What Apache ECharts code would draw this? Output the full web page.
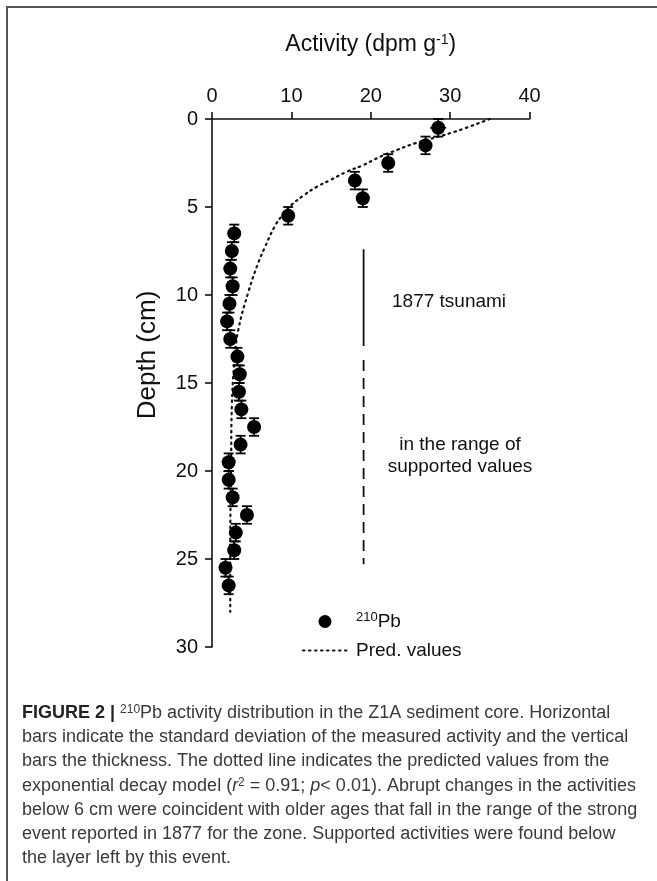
<!DOCTYPE html>
<html>
<head>
<meta charset="utf-8">
<script src="https://cdn.jsdelivr.net/npm/echarts@6/dist/echarts.min.js"></script>
<style>
html,body{margin:0;padding:0;background:#fff;}
#c{width:657px;height:881px;}
</style>
</head>
<body>
<div id="c"></div>
<script>
// ---- data ----
const depth = [0.5,1.5,2.5,3.5,4.5,5.5,6.5,7.5,8.5,9.5,10.5,11.5,12.5,13.5,14.5,15.5,16.5,17.5,18.5,19.5,20.5,21.5,22.5,23.5,24.5,25.5,26.5];
const activity = [28.5,26.9,22.2,18.0,19.0,9.6,2.8,2.5,2.3,2.6,2.2,1.9,2.3,3.2,3.5,3.4,3.7,5.3,3.6,2.1,2.1,2.6,4.4,3.0,2.8,1.7,2.1];
const activitySD = [1.0,0.6,0.5,0.5,0.5,0.6,0.5,0.5,0.5,0.5,0.5,0.5,0.5,0.5,0.5,0.5,0.5,0.5,0.5,0.5,0.5,0.5,0.5,0.5,0.5,0.5,0.5];
const thicknessHalf = [0.5,0.5,0.5,0.5,0.5,0.5,0.5,0.5,0.5,0.5,0.5,0.5,0.5,0.5,0.5,0.5,0.5,0.5,0.5,0.5,0.5,0.5,0.5,0.5,0.5,0.5,0.5];
const predDepth = [0,0.72,1.38,1.76,2.14,2.61,2.99,3.47,3.85,4.32,4.89,5.45,6.1,7.35,8.2,9.8,12,13.9,16.3,20,24,28];
const predActivity = [35,30.6,25.6,23.3,21.2,19.1,17.0,14.9,13.2,11.6,10.0,8.9,7.9,6.6,5.8,4.6,3.3,2.8,2.5,2.4,2.3,2.3];
const xTicks = [0,10,20,30,40];
const yTicks = [0,5,10,15,20,25,30];
const tsunamiLine = {activity:19.1, from:7.4, to:12.9};
const supportedLine = {activity:19.1, from:13.7, to:25.3};
const captionLines = [
  '{b|FIGURE 2 |} {s|210}Pb activity distribution in the Z1A sediment core. Horizontal',
  'bars indicate the standard deviation of the measured activity and the vertical',
  'bars the thickness. The dotted line indicates the predicted values from the',
  'exponential decay model ({i|r}{s|2} = 0.91; {i|p}< 0.01). Abrupt changes in the activities',
  'below 6 cm were coincident with older ages that fall in the range of the strong',
  'event reported in 1877 for the zone. Supported activities were found below',
  'the layer left by this event.'
];

const FONT = '"Liberation Sans", Arial, sans-serif';
const chart = echarts.init(document.getElementById('c'), null, {renderer:'canvas'});

const pts = depth.map((d,i)=>[activity[i], d]);
const errData = depth.map((d,i)=>[activity[i], d, activitySD[i], thicknessHalf[i]]);
const predData = predDepth.map((d,i)=>[predActivity[i], d]);

const captionGraphics = captionLines.map((t,i)=>({
  type:'text', left:22, top:704 + i*24.2,
  style:{
    text:t, fill:'#3a3a3a', font:'18px '+FONT,
    rich:{
      b:{fontWeight:'bold', fontSize:18, fontFamily:'Liberation Sans', fill:'#222'},
      s:{fontSize:12, verticalAlign:'top', fill:'#3a3a3a', padding:[0,0,6,0]},
      i:{fontStyle:'italic', fontSize:18, fill:'#3a3a3a'}
    }
  }
}));

chart.setOption({
  animation:false,
  backgroundColor:'#fff',
  grid:{left:212, right:127.5, top:119, bottom:234},
  xAxis:{
    type:'value', position:'top', min:0, max:40, interval:10,
    name:'{n|Activity (dpm g}{s|-1}{n|)}', nameLocation:'middle', nameGap:62,
    nameTextStyle:{rich:{n:{fontSize:23, fontFamily:FONT, color:'#111'}, s:{fontSize:14, fontFamily:FONT, color:'#111', verticalAlign:'top', padding:[0,0,10,0]}}},
    axisLine:{show:true, onZero:false, lineStyle:{color:'#111', width:1.6}},
    axisTick:{show:true, inside:false, length:7, lineStyle:{color:'#111', width:1.6}},
    axisLabel:{fontSize:20, fontFamily:FONT, color:'#111', margin:13},
    splitLine:{show:false}
  },
  yAxis:{
    type:'value', inverse:true, min:0, max:30, interval:5,
    axisLine:{show:true, onZero:false, lineStyle:{color:'#111', width:1.6}},
    axisTick:{show:true, inside:false, length:7, lineStyle:{color:'#111', width:1.6}},
    axisLabel:{fontSize:20, fontFamily:FONT, color:'#111', margin:14},
    splitLine:{show:false}
  },
  legend:{
    orient:'vertical', left:297, top:606, itemWidth:44, itemHeight:13, itemGap:10,
    data:[
      {name:'Pb210', icon:'circle'},
      {name:'Pred. values', itemStyle:{opacity:0}}
    ],
    formatter:function(n){ return n==='Pb210' ? '{s|210}{n|Pb}' : '{n|Pred. values}'; },
    textStyle:{padding:[0,0,0,4], rich:{n:{fontSize:19, fontFamily:FONT, color:'#111'}, s:{fontSize:13, fontFamily:FONT, color:'#111', verticalAlign:'top', padding:[0,0,8,0]}}}
  },
  series:[
    {
      name:'Pred. values', type:'line', data:predData, smooth:0.4, symbol:'none',
      lineStyle:{color:'#111', width:2.2, type:[1.5,4.5], cap:'round'}, itemStyle:{color:'#111'}, z:2
    },
    {
      name:'errbars', type:'custom', data:errData, z:3,
      renderItem:function(params, api){
        const x = api.value(0), y = api.value(1), sd = api.value(2), th = api.value(3);
        const pTop = api.coord([x, y-th]), pBot = api.coord([x, y+th]);
        const pL = api.coord([x-sd, y]), pR = api.coord([x+sd, y]);
        const cap = 5;
        const st = {stroke:'#000', lineWidth:1.8};
        return {type:'group', children:[
          {type:'line', shape:{x1:pTop[0],y1:pTop[1],x2:pBot[0],y2:pBot[1]}, style:st},
          {type:'line', shape:{x1:pTop[0]-cap,y1:pTop[1],x2:pTop[0]+cap,y2:pTop[1]}, style:st},
          {type:'line', shape:{x1:pBot[0]-cap,y1:pBot[1],x2:pBot[0]+cap,y2:pBot[1]}, style:st},
          {type:'line', shape:{x1:pL[0],y1:pL[1],x2:pR[0],y2:pR[1]}, style:st}
        ]};
      }
    },
    {
      name:'Pb210', type:'scatter', data:pts, symbol:'circle', symbolSize:14,
      itemStyle:{color:'#000', opacity:1}, z:4
    },
    {
      name:'tsunami', type:'line', symbol:'none', z:2,
      data:[[tsunamiLine.activity, tsunamiLine.from],[tsunamiLine.activity, tsunamiLine.to]],
      lineStyle:{color:'#111', width:1.8}
    },
    {
      name:'supported', type:'line', symbol:'none', z:2,
      data:[[supportedLine.activity, supportedLine.from],[supportedLine.activity, supportedLine.to]],
      lineStyle:{color:'#111', width:1.8, type:[11,7]}
    }
  ],
  graphic:[
    {type:'rect', shape:{x:7, y:7, width:700, height:900}, style:{fill:null, stroke:'#555', lineWidth:2}, silent:true},
    {type:'text', x:148, y:355, rotation:Math.PI/2, style:{text:'Depth (cm)', font:'26px '+FONT, fill:'#111', align:'center', verticalAlign:'middle'}},
    {type:'text', x:392, y:302, style:{text:'1877 tsunami', font:'19px '+FONT, fill:'#111', align:'left', verticalAlign:'middle'}},
    {type:'text', x:460, y:445, style:{text:'in the range of', font:'19px '+FONT, fill:'#111', align:'center', verticalAlign:'middle'}},
    {type:'text', x:460, y:467, style:{text:'supported values', font:'19px '+FONT, fill:'#111', align:'center', verticalAlign:'middle'}}
  ].concat(captionGraphics)
});
</script>
</body>
</html>
